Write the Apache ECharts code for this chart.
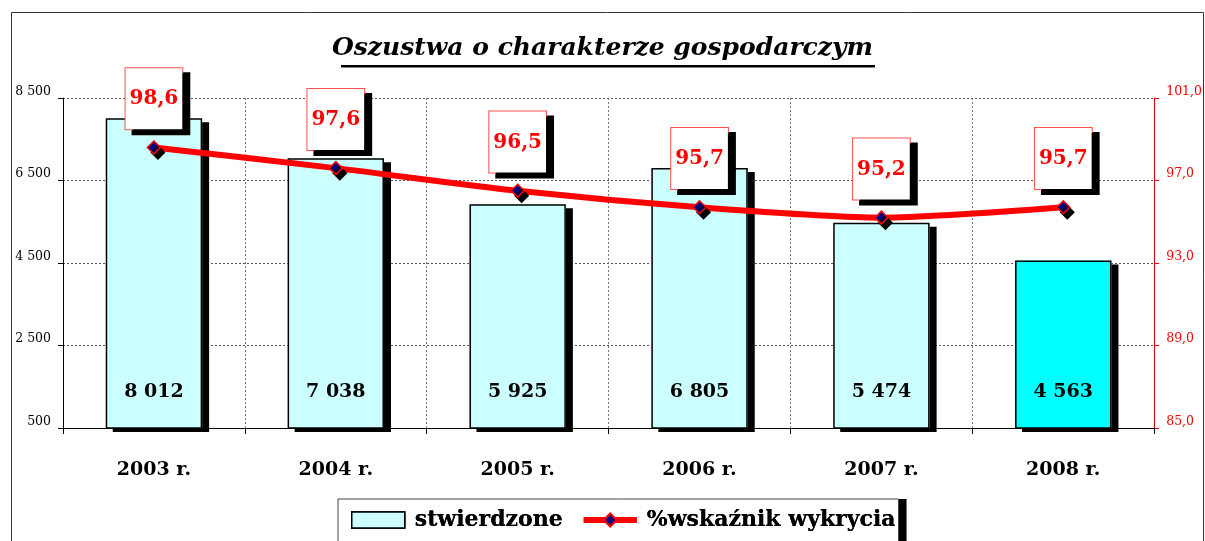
<!DOCTYPE html>
<html>
<head>
<meta charset="utf-8">
<script src="https://cdn.jsdelivr.net/npm/echarts@6/dist/echarts.min.js"></script>
<style>
  html, body { margin: 0; padding: 0; background: #fff; }
  #main { width: 1205px; height: 541px; }
</style>
</head>
<body>
<div id="main"></div>
<script>
var myChart = echarts.init(document.getElementById('main'));

var years = ['2003 r.', '2004 r.', '2005 r.', '2006 r.', '2007 r.', '2008 r.'];
var stwierdzone = [8012, 7038, 5925, 6805, 5474, 4563];
var wskaznik = [98.6, 97.6, 96.5, 95.7, 95.2, 95.7];

var serif = '"DejaVu Serif", "Liberation Serif", serif';

function spaced(v) {
    return String(v).replace(/\B(?=(\d{3})+(?!\d))/g, ' ');
}

// fill + shadow layer (no border, so the border does not cast its own shadow)
var barFill = stwierdzone.map(function (v, i) {
    return {
        value: v,
        itemStyle: { color: i === stwierdzone.length - 1 ? '#00ffff' : '#ccffff' }
    };
});

var legendItems = [
    { name: 'stwierdzone', icon: 'rect', itemStyle: { color: '#ccffff', borderColor: '#000', borderWidth: 1.5 } },
    { name: '%wskaźnik wykrycia', lineStyle: { width: 6, color: '#ff0000' } }
];
var legendText = { fontFamily: serif, fontWeight: 'bold', fontSize: 22, color: '#000', padding: [0, 0, 0, 5] };

function legendBox(extra) {
    var base = {
        top: 499,
        left: 338,
        padding: [10, 3, 15, 13],
        itemGap: 18,
        itemWidth: 53,
        itemHeight: 16,
        textStyle: legendText,
        data: legendItems
    };
    for (var k in extra) base[k] = extra[k];
    return base;
}

option = {
    backgroundColor: '#fff',
    animation: false,
    title: {
        text: 'Oszustwa o charakterze gospodarczym',
        left: 'center',
        top: 31,
        textStyle: {
            fontFamily: serif,
            fontStyle: 'italic',
            fontWeight: 'bold',
            fontSize: 25,
            color: '#000'
        }
    },
    graphic: [
        {
            type: 'rect',
            shape: { x: 11.5, y: 12.5, width: 1192, height: 540 },
            style: { fill: 'none', stroke: '#333', lineWidth: 1 },
            silent: true,
            z: -10
        },
        {
            type: 'rect',
            shape: { x: 341, y: 65, width: 534, height: 2.5 },
            style: { fill: '#000' },
            silent: true
        }
    ],
    legend: [
        legendBox({
            backgroundColor: '#fff',
            borderWidth: 0,
            shadowColor: '#000',
            shadowOffsetX: 8,
            shadowOffsetY: 0,
            shadowBlur: 0,
            z: 4
        }),
        legendBox({
            backgroundColor: 'transparent',
            borderColor: '#444',
            borderWidth: 1,
            z: 5
        })
    ],
    grid: { left: 63, right: 50, top: 98, bottom: 113 },
    xAxis: {
        type: 'category',
        data: years,
        axisLine: { lineStyle: { color: '#000', width: 1 } },
        axisTick: { show: true, length: 6, lineStyle: { color: '#000' } },
        axisLabel: { margin: 33, fontFamily: serif, fontWeight: 'bold', fontSize: 19, color: '#000' },
        splitLine: { show: true, lineStyle: { color: '#777', type: [2, 2], width: 1 } }
    },
    yAxis: [
        {
            type: 'value',
            min: 500,
            max: 8500,
            interval: 2000,
            axisLine: { show: true, lineStyle: { color: '#000' } },
            axisTick: { show: true, length: 5, lineStyle: { color: '#000' } },
            axisLabel: {
                margin: 12,
                fontFamily: serif,
                fontSize: 12.5,
                color: '#000',
                verticalAlign: 'bottom',
                formatter: spaced
            },
            splitLine: { show: true, lineStyle: { color: '#555', type: [2, 2], width: 1 } }
        },
        {
            type: 'value',
            min: 85,
            max: 101,
            interval: 4,
            position: 'right',
            axisLine: { show: true, lineStyle: { color: '#cc0000', width: 1 } },
            axisTick: { show: true, length: 5, lineStyle: { color: '#ff0000' } },
            axisLabel: {
                margin: 12,
                fontFamily: serif,
                fontSize: 12.5,
                color: '#ff0000',
                verticalAlign: 'bottom',
                formatter: function (v) { return v.toFixed(1).replace('.', ','); }
            },
            splitLine: { show: false }
        }
    ],
    series: [
        {
            name: 'stwierdzone',
            type: 'bar',
            yAxisIndex: 0,
            barWidth: '53%',
            data: barFill,
            itemStyle: {
                borderWidth: 0,
                shadowColor: '#000',
                shadowOffsetX: 7,
                shadowOffsetY: 4,
                shadowBlur: 0
            },
            z: 2
        },
        {
            name: 'stwierdzone',
            type: 'bar',
            yAxisIndex: 0,
            barWidth: '53%',
            barGap: '-100%',
            data: stwierdzone,
            itemStyle: {
                color: 'transparent',
                borderColor: '#000',
                borderWidth: 1.5
            },
            label: {
                show: true,
                position: 'insideBottom',
                distance: 27,
                fontFamily: serif,
                fontWeight: 'bold',
                fontSize: 19,
                color: '#000',
                formatter: function (p) { return spaced(p.value); }
            },
            z: 3
        },
        {
            name: '%wskaźnik wykrycia',
            type: 'line',
            yAxisIndex: 1,
            data: wskaznik,
            smooth: 0.25,
            symbol: 'diamond',
            symbolSize: 13,
            lineStyle: { color: '#ff0000', width: 6 },
            itemStyle: {
                color: '#000080',
                borderColor: '#ff0000',
                borderWidth: 1.5,
                shadowColor: '#000',
                shadowOffsetX: 4,
                shadowOffsetY: 5,
                shadowBlur: 0
            },
            label: {
                show: true,
                position: 'top',
                distance: 11,
                padding: [21, 4, 20, 4],
                backgroundColor: '#fff',
                borderColor: '#ff5050',
                borderWidth: 1,
                shadowColor: '#000',
                shadowOffsetX: 7,
                shadowOffsetY: 5,
                shadowBlur: 0,
                fontFamily: serif,
                fontWeight: 'bold',
                fontSize: 20,
                color: '#ff0000',
                formatter: function (p) { return p.value.toFixed(1).replace('.', ','); }
            },
            z: 5
        }
    ]
};

myChart.setOption(option);
</script>
</body>
</html>
